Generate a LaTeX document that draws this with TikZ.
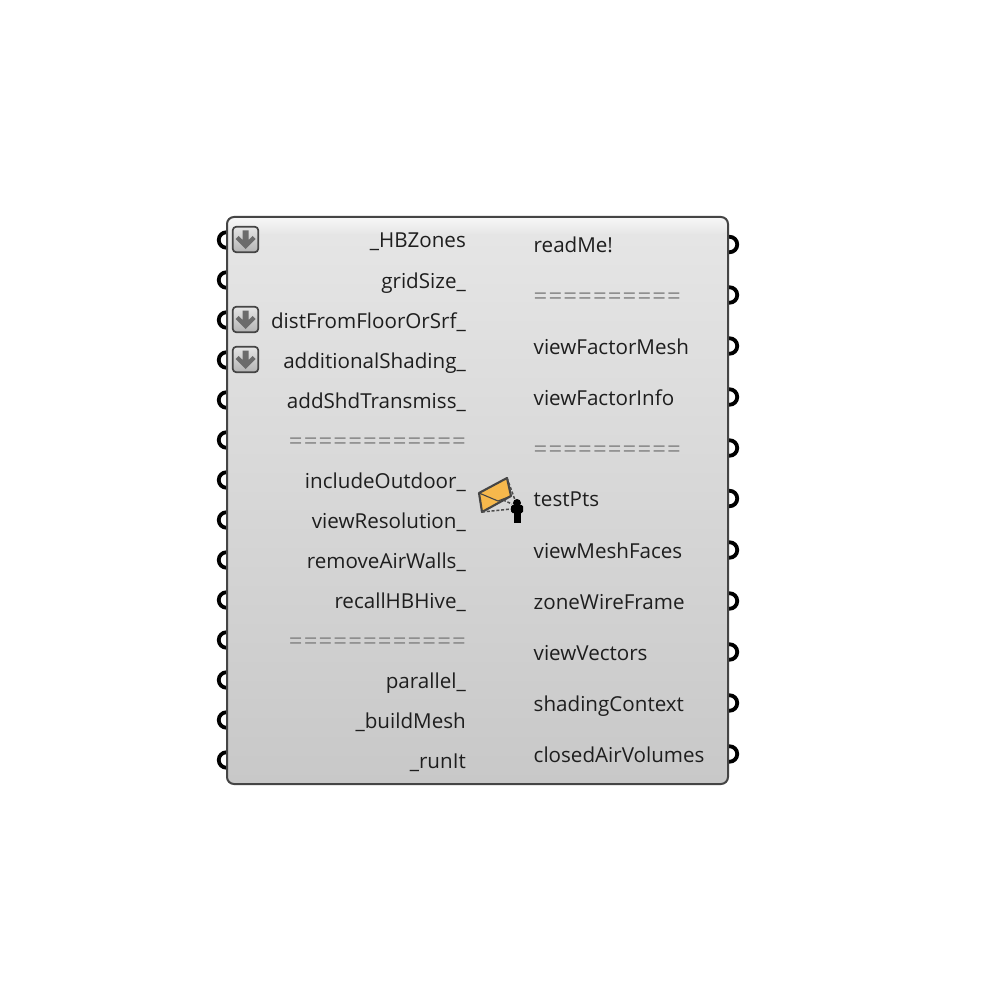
\documentclass[tikz,border=0pt]{standalone}
\usepackage{fontspec}
\setmainfont{Open Sans}
\newfontfamily\sepfont[LetterSpace=4.6]{Open Sans}
\definecolor{edge}{HTML}{454545}
\definecolor{lab}{HTML}{1E1E1E}
\definecolor{sep}{HTML}{8A8A8A}
\definecolor{bodytop}{HTML}{E6E6E6}
\definecolor{bodybot}{HTML}{C8C8C8}
\definecolor{env}{HTML}{F6B84C}
\tikzset{
  port/.style={circle,draw=black,line width=3.8pt,fill=white,minimum size=15.5pt,inner sep=0pt},
  inlab/.style={anchor=base east,inner sep=0pt,text=lab,font=\fontsize{20.6}{23}\selectfont},
  outlab/.style={anchor=base west,inner sep=0pt,text=lab,font=\fontsize{20.6}{23}\selectfont},
  insep/.style={anchor=base east,inner sep=0pt,text=sep,font=\sepfont\fontsize{24}{26}\selectfont},
  outsep/.style={anchor=base west,inner sep=0pt,text=sep,font=\sepfont\fontsize{24}{26}\selectfont},
  btn/.style={draw=edge,line width=1.7pt,rounded corners=3.5pt,minimum size=25.5pt,inner sep=0pt,top color=white!90!black,bottom color=white!70!black},
}
\begin{document}
\begin{tikzpicture}[x=1pt,y=-1pt]
\useasboundingbox (0,0) rectangle (1000,1000);
\fill[white] (0,0) rectangle (1000,1000);
% ports
\foreach \n/\y in {1/240,2/280,3/320,4/360,5/400,6/440,7/480,8/520,9/560,10/600,11/640,12/680,13/720,14/760}
  \node[port] (in\n) at (226.5,\y) {};
\foreach \n/\y in {1/244.5,2/295,3/346,4/397,5/448,6/498.5,7/550,8/601,9/652,10/703,11/754}
  \node[port] (out\n) at (729.5,\y) {};
% body
\shade[top color=bodytop,bottom color=bodybot,rounded corners=7pt] (227,217) rectangle (728,784);
\shade[top color=white!97!black,bottom color=bodytop,rounded corners=7pt] (227,234) -- (227,217) -- (728,217) -- (728,234) [sharp corners] -- cycle;
\draw[edge,line width=2pt,rounded corners=7pt] (227,217) rectangle (728,784);
% input labels
\node[inlab] (l1) at (466,247.5) {\_HBZones};
\node[inlab] (l2) at (466,288) {gridSize\_};
\node[inlab] (l3) at (466,328) {distFromFloorOrSrf\_};
\node[inlab] (l4) at (466,368) {additionalShading\_};
\node[inlab] (l5) at (466,408) {addShdTransmiss\_};
\node[insep] (l6) at (466,449.4) {============};
\node[inlab] (l7) at (466,488) {includeOutdoor\_};
\node[inlab] (l8) at (466,528) {viewResolution\_};
\node[inlab] (l9) at (466,568) {removeAirWalls\_};
\node[inlab] (l10) at (466,608) {recallHBHive\_};
\node[insep] (l11) at (466,649.4) {============};
\node[inlab] (l12) at (466,688) {parallel\_};
\node[inlab] (l13) at (466,728) {\_buildMesh};
\node[inlab] (l14) at (466,768) {\_runIt};
% output labels
\node[outlab] (r1) at (533.5,252.5) {readMe!};
\node[outsep] (r2) at (533.5,304.4) {==========};
\node[outlab] (r3) at (533.5,354) {viewFactorMesh};
\node[outlab] (r4) at (533.5,405) {viewFactorInfo};
\node[outsep] (r5) at (533.5,457.4) {==========};
\node[outlab] (r6) at (533.5,506) {testPts};
\node[outlab] (r7) at (533.5,558) {viewMeshFaces};
\node[outlab] (r8) at (533.5,609) {zoneWireFrame};
\node[outlab] (r9) at (533.5,660) {viewVectors};
\node[outlab] (r10) at (533.5,711) {shadingContext};
\node[outlab] (r11) at (533.5,762) {closedAirVolumes};
% buttons
\foreach \n/\y in {1/239.5,3/319.5,4/359.5}{
  \node[btn] (b\n) at (245.5,\y) {};
  \fill[black!58] (242.5,\y-9) -- (248.5,\y-9) -- (248.5,\y+0.5) -- (252.5,\y-3.5) -- (255.5,\y-0.5) -- (245.5,\y+9.5) -- (235.5,\y-0.5) -- (238.5,\y-3.5) -- (242.5,\y+0.5) -- cycle;
}
% icon
\fill[env,draw=edge,line width=2.1pt,line join=round] (479,493) -- (507,478) -- (511,496) -- (482,512) -- cycle;
\draw[edge,line width=1.1pt] (479,493) -- (498,501) -- (511,496);
\draw[black!70,line width=1.5pt,dash pattern=on 3pt off 1.8pt] (507,478) -- (515,500) (482,512) -- (511,509) (503,500) -- (512,504);
\fill[black] (517,503) circle (4pt);
\fill[black,rounded corners=1.5pt] (511,505) rectangle (523,513);
\fill[black] (513.5,510) rectangle (520.5,523);
\end{tikzpicture}
\end{document}
